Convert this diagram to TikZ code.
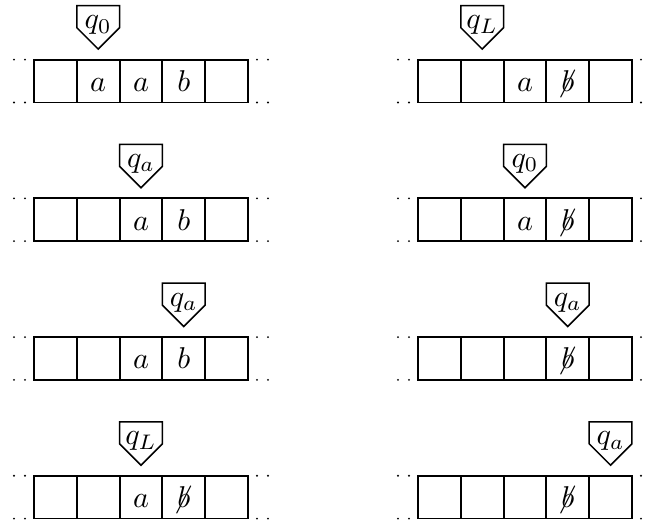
\documentclass[tikz,border=0pt]{standalone}
\begin{document}
\tikzset{
  cell/.style={draw, line width=0.6pt, rectangle, inner sep=0pt, outer sep=0pt,
    minimum width=14.227pt, minimum height=14.227pt, text height=6.9pt, text depth=0pt},
  headline/.style={draw, line width=0.5pt, line join=miter},
  headlabel/.style={anchor=base, inner sep=0pt},
  tapedot/.style={fill=black}
}
\newcommand\nb{\mkern-3mu\mathord{\not}\mkern3mu b}
\newcommand\tapeat[4]{%
  \foreach \c [count=\i] in {#4} {
    \node[cell] (#1c\i) at ({#2+42.8*(\i-0.5)}, {#3+21.4}) {$\c$};
  }
  \foreach \dx in {-20,-9,223,234} {
    \fill[tapedot] ({#2+\dx},#3) circle (0.35pt);
    \fill[tapedot] ({#2+\dx},{#3+42.8}) circle (0.35pt);
  }
}
\newcommand\headat[5]{% name, x0, cell index, T, label
  \coordinate (#1c) at ({#2+42.8*(#3-0.5)}, #4);
  \node[headlabel] (#1) at ([yshift={31*0.3324pt}]#1c) {$#5$};
  \draw[headline] ([shift={(-21.4,-54)}]#1c) -- ([shift={(21.4,-54)}]#1c)
     -- ([shift={(21.4,-32)}]#1c) -- ([shift={(0,-10.6)}]#1c)
     -- ([shift={(-21.4,-32)}]#1c) -- cycle;
}
\begin{tikzpicture}[x=0.3324pt, y=-0.3324pt]
\useasboundingbox (0,0) rectangle (646,522);
% left column
\tapeat{LA}{34}{59.7}{{},a,a,b,{}}
\headat{hLA}{34}{2}{59.7}{q_0}
\tapeat{LB}{34}{198.4}{{},{},a,b,{}}
\headat{hLB}{34}{3}{198.4}{q_a}
\tapeat{LC}{34}{337.1}{{},{},a,b,{}}
\headat{hLC}{34}{4}{337.1}{q_a}
\tapeat{LD}{34}{475.8}{{},{},a,{\nb},{}}
\headat{hLD}{34}{3}{475.8}{q_L}
% right column
\tapeat{RA}{418}{59.7}{{},{},a,{\nb},{}}
\headat{hRA}{418}{2}{59.7}{q_L}
\tapeat{RB}{418}{198.4}{{},{},a,{\nb},{}}
\headat{hRB}{418}{3}{198.4}{q_0}
\tapeat{RC}{418}{337.1}{{},{},{},{\nb},{}}
\headat{hRC}{418}{4}{337.1}{q_a}
\tapeat{RD}{418}{475.8}{{},{},{},{\nb},{}}
\headat{hRD}{418}{5}{475.8}{q_a}
\end{tikzpicture}
\end{document}
